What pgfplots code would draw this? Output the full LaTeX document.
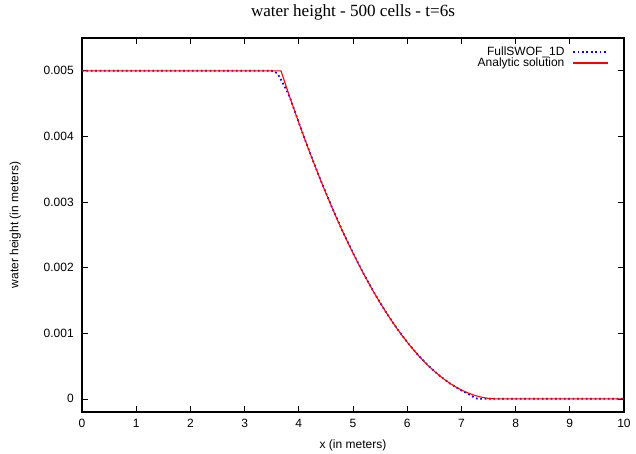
\documentclass[border=0pt]{standalone}
\usepackage{pgfplots}
\pgfplotsset{compat=1.18}
\usepackage{fontspec}
\setmainfont{Liberation Sans}
\newfontfamily\titlefont{Liberation Serif}
\begin{document}
\begin{tikzpicture}
\begin{axis}[
  scale only axis,
  width=406.5pt, height=280.5pt,
  xmin=0, xmax=10,
  ymin=-0.0002, ymax=0.0055,
  xtick={0,1,...,10},
  ytick={0,0.001,0.002,0.003,0.004,0.005},
  scaled y ticks=false,
  yticklabel style={/pgf/number format/fixed,/pgf/number format/precision=3},
  /pgf/number format/assume math mode=true,
  tick align=inside,
  major tick length=4.3pt,
  axis line style={line width=1pt},
  every tick/.style={black, line width=0.5pt},
  ticklabel style={font=\fontsize{9}{10}\selectfont},
  xticklabel style={inner sep=2pt, yshift=-3pt},
  yticklabel style={inner sep=2pt, xshift=-4pt},
  label style={font=\fontsize{9}{10}\selectfont},
  xlabel={x (in meters)},
  ylabel={water height (in meters)},
  xlabel style={at={(axis description cs:0.5,0)}, anchor=center, yshift=-25pt, inner sep=1pt},
  ylabel style={at={(axis description cs:-0.123,0.5)}, anchor=center, inner sep=1pt},
  title={\titlefont water height - 500 cells - t=6s},
  title style={font=\fontsize{12.8}{14}\selectfont, at={(axis description cs:0.5,1)}, anchor=center, yshift=13.5pt, inner sep=1pt},
  legend style={draw=none, fill=none, at={(axis description cs:1,1)}, anchor=north east,
    xshift=-11pt, yshift=-5.5pt,
    font=\fontsize{9}{10}\selectfont, row sep=-2pt, column sep=5pt, inner sep=0pt,
    nodes={inner sep=1pt}},
  legend cell align=right,
  legend plot pos=right,
  legend image code/.code={\draw[#1] (0cm,0cm) -- (0.92cm,0cm);},
]
\addplot[blue, line width=1.3pt, dotted] coordinates {
(0,0.005) (1,0.005) (2,0.005) (3,0.005) (3.5,0.005) (3.55,0.00499) (3.6,0.00496)
(3.65,0.00490) (3.7,0.00482) (3.75,0.00474) (3.8,0.00466) (3.85,0.00456) (3.9,0.004443)
(4.0,0.004209) (4.2,0.003761) (4.4,0.003339) (4.6,0.002941) (4.8,0.002569)
(5.0,0.002222) (5.2,0.001900) (5.4,0.001604) (5.6,0.001332) (5.8,0.001086)
(6.0,0.000865) (6.2,0.000668) (6.4,0.000498) (6.6,0.000350) (6.8,0.000228)
(7.0,0.000128) (7.1,0.000088) (7.2,0.000040) (7.25,0.000012) (7.3,0.000002)
(7.35,0) (8,0) (9,0) (10,0)
};
\addlegendentry{FullSWOF\_1D}
\addplot[red, line width=0.8pt] coordinates {
(0,0.005) (3.6712,0.005) (3.75,0.004804) (3.8,0.004682) (3.9,0.004443)
(4.0,0.004209) (4.1,0.003982) (4.2,0.003761) (4.3,0.003547) (4.4,0.003339)
(4.5,0.003136) (4.6,0.002941) (4.7,0.002751) (4.8,0.002569) (4.9,0.002392)
(5.0,0.002222) (5.1,0.002058) (5.2,0.001900) (5.3,0.001749) (5.4,0.001604)
(5.5,0.001465) (5.6,0.001332) (5.7,0.001206) (5.8,0.001086) (5.9,0.000972)
(6.0,0.000865) (6.1,0.000763) (6.2,0.000668) (6.3,0.000580) (6.4,0.000498)
(6.5,0.000421) (6.6,0.000352) (6.7,0.000288) (6.8,0.000231) (6.9,0.000180)
(7.0,0.000136) (7.1,0.000098) (7.2,0.0000659) (7.3,0.0000401) (7.4,0.0000209)
(7.5,0.0000078) (7.6,0.00000105) (7.657,0) (10,0)
};
\addlegendentry{Analytic solution}
\end{axis}
\path ([xshift=-61.5pt,yshift=-31.5pt]current axis.south west) rectangle ([xshift=9pt,yshift=28.5pt]current axis.north east);
\end{tikzpicture}
\end{document}
